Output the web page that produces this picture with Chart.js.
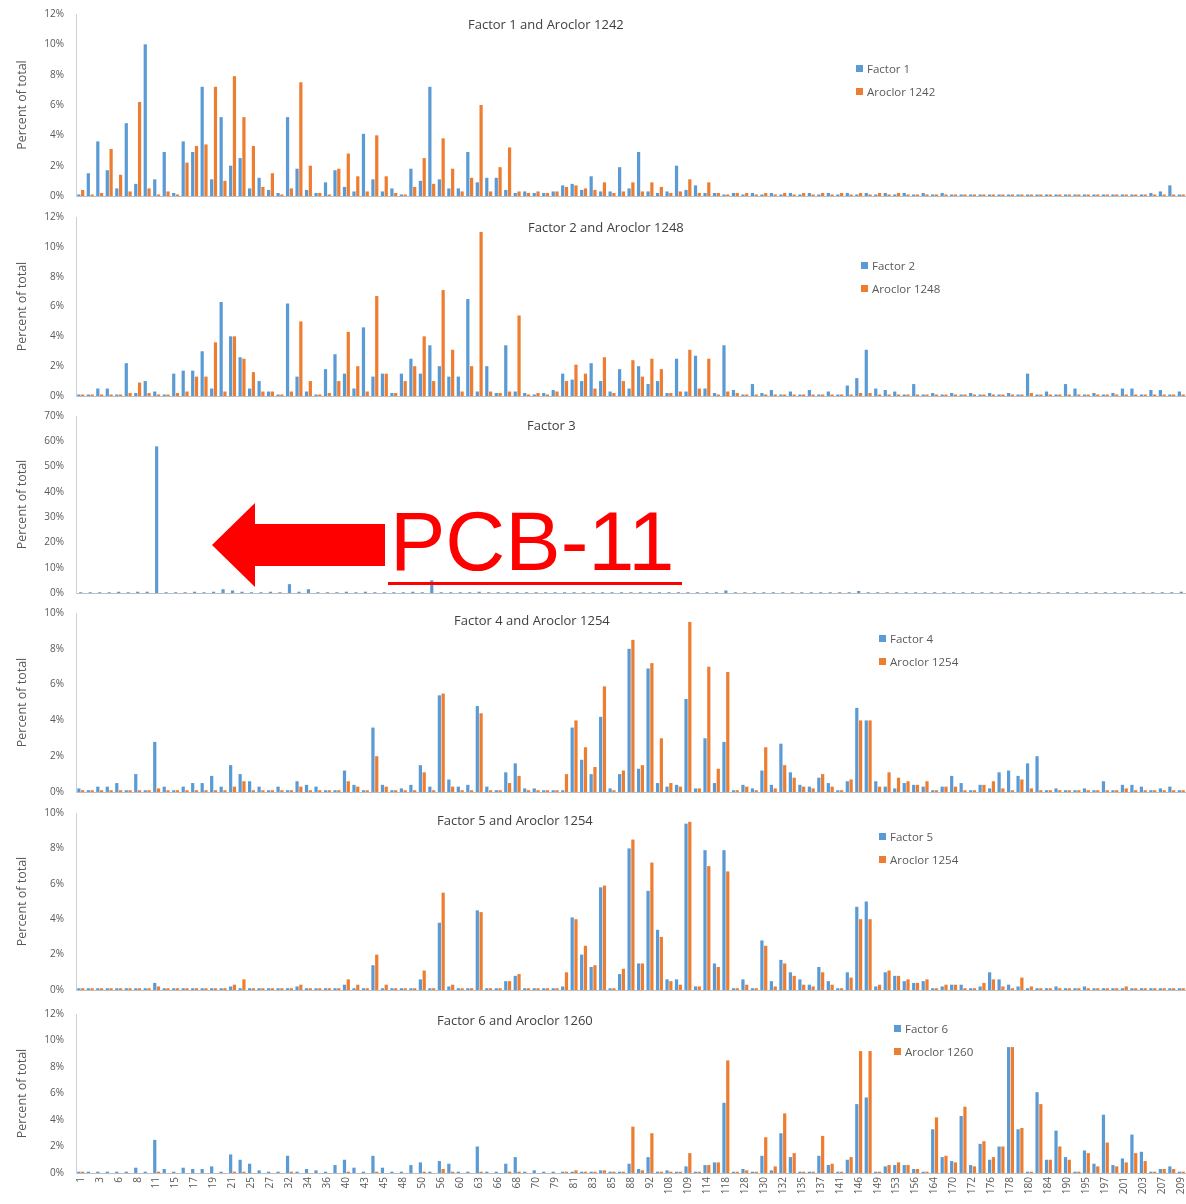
<!DOCTYPE html>
<html>
<head>
<meta charset="utf-8">
<script src="https://cdn.jsdelivr.net/npm/chart.js@4.4.1/dist/chart.umd.min.js"></script>
<style>
  body { margin: 0; background: #fff; }
  #page { position: relative; width: 1186px; height: 1204px; overflow: hidden; font-family: "Open Sans", "Liberation Sans", sans-serif; }
  #page canvas { position: absolute; left: 0; }
  .title { position: absolute; font-size: 13px; line-height: 18px; color: #404040; white-space: nowrap; z-index: 2; }
  .leg { position: absolute; font-size: 11.5px; color: #595959; z-index: 2; }
  .leg div { height: 23px; line-height: 23px; white-space: nowrap; }
  .leg i { display: inline-block; width: 7px; height: 7px; margin-right: 4px; vertical-align: middle; position: relative; top: -1px; }
  #pcb { position: absolute; left: 390px; top: 500px; font-family: "Liberation Sans", Arial, sans-serif; font-size: 83px; line-height: 83px; color: #ff0000; z-index: 3; white-space: nowrap; }
  #arrow { position: absolute; left: 0; top: 0; z-index: 3; }
</style>
</head>
<body>
<div id="page">
  <canvas id="c1" width="1186" height="198" style="top:4px"></canvas>
  <canvas id="c2" width="1186" height="195" style="top:207px"></canvas>
  <canvas id="c3" width="1186" height="193" style="top:406px"></canvas>
  <canvas id="c4" width="1186" height="195" style="top:603px"></canvas>
  <canvas id="c5" width="1186" height="193" style="top:803px"></canvas>
  <canvas id="c6" width="1186" height="200" style="top:1004px"></canvas>

  <div class="title" style="left:468px;top:15px">Factor 1 and Aroclor 1242</div>
  <div class="title" style="left:528px;top:218px">Factor 2 and Aroclor 1248</div>
  <div class="title" style="left:527px;top:416px">Factor 3</div>
  <div class="title" style="left:454px;top:611px">Factor 4 and Aroclor 1254</div>
  <div class="title" style="left:437px;top:811px">Factor 5 and Aroclor 1254</div>
  <div class="title" style="left:437px;top:1011px">Factor 6 and Aroclor 1260</div>

  <div class="leg" style="left:856px;top:57px"><div><i style="background:#5b9bd5"></i>Factor 1</div><div><i style="background:#ed7d31"></i>Aroclor 1242</div></div>
  <div class="leg" style="left:861px;top:254px"><div><i style="background:#5b9bd5"></i>Factor 2</div><div><i style="background:#ed7d31"></i>Aroclor 1248</div></div>
  <div class="leg" style="left:879px;top:627px"><div><i style="background:#5b9bd5"></i>Factor 4</div><div><i style="background:#ed7d31"></i>Aroclor 1254</div></div>
  <div class="leg" style="left:879px;top:825px"><div><i style="background:#5b9bd5"></i>Factor 5</div><div><i style="background:#ed7d31"></i>Aroclor 1254</div></div>
  <div class="leg" style="left:894px;top:1017px"><div><i style="background:#5b9bd5"></i>Factor 6</div><div><i style="background:#ed7d31"></i>Aroclor 1260</div></div>

  <!-- PCB-11 callout -->
  <svg id="arrow" width="1186" height="1204">
    <polygon points="212,545 255,503 255,524 385,524 385,566 255,566 255,587" fill="#ff0000"/>
    <line x1="388" y1="583.5" x2="682" y2="583.5" stroke="#ff0000" stroke-width="3"/>
  </svg>
  <div id="pcb">PCB-11</div>
</div>

<script>
// congeners (only every other one is printed on the axis)
const congeners = [
  '1','2','3','4','6','7','8','9','11','12',
  '15','16','17','18','19','20','21','22','25','26',
  '27','31','32','33','34','35','36','37','40','42',
  '43','44','45','46','48','49','50','52','56','59',
  '60','61','63','64','66','67','68','69','70','77',
  '79','80','81','82','83','84','85','87','88','91',
  '92','95','108','107','109','110','114','115','118','123',
  '128','129','130','131','132','134','135','136','137','138',
  '141','144','146','147','149','151','153','154','156','158',
  '164','167','170','171','172','174','176','177','178','179',
  '180','183','184','187','190','194','195','196','197','199',
  '201','202','203','206','207','208','209'
];

// percent of total
const factor1 = [
  0.1, 1.5, 3.6, 1.7, 0.5, 4.8, 0.8, 10.0, 1.1, 2.9,
  0.2, 3.6, 2.9, 7.2, 1.1, 5.2, 2.0, 2.5, 0.5, 1.2,
  0.4, 0.2, 5.2, 1.8, 0.4, 0.2, 0.9, 1.7, 0.6, 0.3,
  4.1, 1.1, 0.3, 0.5, 0.1, 1.8, 1.0, 7.2, 1.1, 0.5,
  0.5, 2.9, 0.9, 1.2, 1.2, 0.4, 0.2, 0.3, 0.2, 0.2,
  0.3, 0.7, 0.8, 0.4, 1.3, 0.3, 0.3, 1.9, 0.5, 2.9,
  0.3, 0.2, 0.3, 2.0, 0.4, 0.7, 0.2, 0.2, 0.1, 0.2,
  0.1, 0.2, 0.1, 0.2, 0.1, 0.2, 0.1, 0.2, 0.1, 0.2,
  0.1, 0.2, 0.1, 0.2, 0.1, 0.2, 0.1, 0.2, 0.1, 0.2,
  0.1, 0.2, 0.1, 0.1, 0.1, 0.1, 0.1, 0.1, 0.1, 0.1,
  0.1, 0.1, 0.1, 0.1, 0.1, 0.1, 0.1, 0.1, 0.1, 0.1,
  0.1, 0.1, 0.1, 0.2, 0.3, 0.7, 0.1
];
const aroclor1242 = [
  0.4, 0.1, 0.2, 3.1, 1.4, 0.3, 6.2, 0.5, 0.1, 0.3,
  0.1, 2.2, 3.3, 3.4, 7.2, 1.0, 7.9, 5.2, 3.3, 0.6,
  1.5, 0.1, 0.5, 7.5, 2.0, 0.2, 0.1, 1.8, 2.8, 1.3,
  0.3, 4.0, 1.3, 0.2, 0.1, 0.6, 2.5, 0.8, 3.8, 1.8,
  0.3, 1.2, 6.0, 0.3, 1.9, 3.2, 0.3, 0.2, 0.3, 0.2,
  0.3, 0.6, 0.7, 0.5, 0.4, 0.9, 0.2, 0.3, 0.9, 0.3,
  0.9, 0.6, 0.2, 0.3, 1.1, 0.2, 0.9, 0.2, 0.1, 0.2,
  0.2, 0.1, 0.2, 0.1, 0.2, 0.1, 0.2, 0.1, 0.2, 0.1,
  0.2, 0.1, 0.2, 0.1, 0.2, 0.1, 0.2, 0.1, 0.1, 0.1,
  0.1, 0.1, 0.1, 0.1, 0.1, 0.1, 0.1, 0.1, 0.1, 0.1,
  0.1, 0.1, 0.1, 0.1, 0.1, 0.1, 0.1, 0.1, 0.1, 0.1,
  0.1, 0.1, 0.1, 0.1, 0.1, 0.1, 0.1
];
const factor2 = [
  0.1, 0.1, 0.5, 0.5, 0.1, 2.2, 0.2, 1.0, 0.3, 0.1,
  1.5, 1.7, 1.7, 3.0, 0.5, 6.3, 4.0, 2.6, 0.5, 1.0,
  0.3, 0.1, 6.2, 1.3, 0.3, 0.1, 1.8, 2.8, 1.5, 0.5,
  4.6, 1.3, 1.5, 0.2, 1.5, 2.5, 1.5, 3.4, 2.0, 1.3,
  1.3, 6.5, 0.3, 2.0, 0.2, 3.4, 0.3, 0.2, 0.1, 0.2,
  0.4, 1.5, 1.1, 1.0, 2.2, 1.0, 0.3, 1.8, 0.5, 2.0,
  0.8, 1.0, 0.2, 2.5, 0.3, 2.7, 0.5, 0.2, 3.4, 0.4,
  0.1, 0.8, 0.2, 0.4, 0.1, 0.3, 0.1, 0.4, 0.1, 0.3,
  0.1, 0.7, 1.2, 3.1, 0.5, 0.4, 0.3, 0.1, 0.8, 0.1,
  0.2, 0.1, 0.2, 0.1, 0.2, 0.1, 0.2, 0.1, 0.2, 0.1,
  1.5, 0.1, 0.3, 0.1, 0.8, 0.5, 0.1, 0.2, 0.1, 0.2,
  0.5, 0.5, 0.1, 0.4, 0.4, 0.1, 0.3
];
const aroclor1248 = [
  0.1, 0.1, 0.1, 0.1, 0.1, 0.2, 0.9, 0.2, 0.1, 0.1,
  0.2, 0.3, 1.3, 1.3, 3.6, 0.3, 4.0, 2.5, 1.6, 0.3,
  0.3, 0.1, 0.3, 5.0, 1.0, 0.1, 0.2, 1.0, 4.3, 2.0,
  0.3, 6.7, 1.5, 0.2, 1.0, 2.0, 4.0, 1.0, 7.1, 3.1,
  0.3, 2.0, 11.0, 0.3, 0.2, 0.3, 5.4, 0.1, 0.2, 0.1,
  0.3, 1.0, 2.1, 1.5, 0.5, 2.6, 0.2, 1.0, 2.4, 1.3,
  2.5, 1.8, 0.2, 0.3, 3.1, 0.5, 2.5, 0.1, 0.3, 0.2,
  0.1, 0.1, 0.1, 0.1, 0.1, 0.1, 0.1, 0.1, 0.1, 0.1,
  0.1, 0.1, 0.2, 0.2, 0.1, 0.1, 0.1, 0.1, 0.1, 0.1,
  0.1, 0.1, 0.1, 0.1, 0.1, 0.1, 0.1, 0.1, 0.1, 0.1,
  0.2, 0.1, 0.1, 0.1, 0.1, 0.1, 0.1, 0.1, 0.1, 0.1,
  0.1, 0.1, 0.1, 0.1, 0.1, 0.1, 0.1
];
const factor3 = [
  0.3, 0.3, 0.3, 0.3, 0.5, 0.3, 0.5, 0.5, 58.0, 0.3,
  0.3, 0.3, 0.5, 0.3, 0.5, 1.5, 1.0, 0.5, 0.3, 0.3,
  0.5, 0.3, 3.5, 0.5, 1.5, 0.3, 0.3, 0.3, 0.5, 0.3,
  0.5, 0.3, 0.3, 0.3, 0.3, 0.5, 0.3, 5.0, 0.3, 0.3,
  0.3, 0.3, 0.5, 0.3, 0.3, 0.3, 0.3, 0.3, 0.3, 0.3,
  0.3, 0.3, 0.3, 0.3, 0.3, 0.3, 0.3, 0.3, 0.3, 0.3,
  0.3, 0.3, 0.3, 0.3, 0.3, 0.3, 0.3, 0.3, 1.0, 0.3,
  0.3, 0.3, 0.3, 0.3, 0.3, 0.3, 0.3, 0.3, 0.3, 0.3,
  0.3, 0.3, 0.8, 0.3, 0.3, 0.3, 0.3, 0.3, 0.3, 0.3,
  0.3, 0.3, 0.3, 0.3, 0.3, 0.3, 0.3, 0.3, 0.3, 0.3,
  0.3, 0.3, 0.3, 0.3, 0.3, 0.3, 0.3, 0.3, 0.3, 0.3,
  0.3, 0.3, 0.3, 0.3, 0.3, 0.3, 0.5
];
const factor4 = [
  0.2, 0.1, 0.3, 0.3, 0.5, 0.1, 1.0, 0.1, 2.8, 0.3,
  0.1, 0.3, 0.5, 0.5, 0.9, 0.3, 1.5, 1.0, 0.6, 0.3,
  0.1, 0.3, 0.1, 0.6, 0.4, 0.3, 0.1, 0.1, 1.2, 0.4,
  0.1, 3.6, 0.4, 0.1, 0.2, 0.4, 1.5, 0.3, 5.4, 0.7,
  0.3, 0.4, 4.8, 0.3, 0.1, 1.1, 1.6, 0.2, 0.2, 0.1,
  0.1, 0.1, 3.6, 1.8, 1.0, 4.2, 0.2, 1.0, 8.0, 1.3,
  6.9, 0.5, 0.3, 0.4, 5.2, 0.2, 3.0, 0.5, 2.8, 0.1,
  0.4, 0.2, 1.2, 0.4, 2.7, 1.1, 0.4, 0.3, 0.8, 0.5,
  0.1, 0.6, 4.7, 4.0, 0.6, 0.3, 0.2, 0.5, 0.4, 0.3,
  0.1, 0.3, 0.9, 0.5, 0.1, 0.4, 0.2, 1.1, 1.2, 0.9,
  1.6, 2.0, 0.1, 0.2, 0.1, 0.1, 0.2, 0.1, 0.6, 0.1,
  0.4, 0.4, 0.3, 0.1, 0.2, 0.3, 0.1
];
const aroclor1254 = [
  0.1, 0.1, 0.1, 0.1, 0.1, 0.1, 0.1, 0.1, 0.2, 0.1,
  0.1, 0.1, 0.1, 0.1, 0.1, 0.1, 0.3, 0.6, 0.1, 0.1,
  0.1, 0.1, 0.1, 0.3, 0.1, 0.1, 0.1, 0.1, 0.6, 0.3,
  0.1, 2.0, 0.3, 0.1, 0.1, 0.1, 1.1, 0.1, 5.5, 0.3,
  0.1, 0.1, 4.4, 0.1, 0.1, 0.5, 0.9, 0.1, 0.1, 0.1,
  0.1, 1.0, 4.0, 2.5, 1.4, 5.9, 0.1, 1.2, 8.5, 1.5,
  7.2, 3.0, 0.5, 0.3, 9.5, 0.2, 7.0, 1.3, 6.7, 0.1,
  0.3, 0.1, 2.5, 0.2, 1.5, 0.8, 0.3, 0.2, 1.0, 0.3,
  0.1, 0.7, 4.0, 4.0, 0.3, 1.1, 0.8, 0.6, 0.4, 0.6,
  0.1, 0.3, 0.3, 0.1, 0.1, 0.4, 0.6, 0.2, 0.1, 0.7,
  0.2, 0.1, 0.1, 0.1, 0.1, 0.1, 0.1, 0.1, 0.1, 0.1,
  0.2, 0.1, 0.1, 0.1, 0.1, 0.1, 0.1
];
const factor5 = [
  0.1, 0.1, 0.1, 0.1, 0.1, 0.1, 0.1, 0.1, 0.4, 0.1,
  0.1, 0.1, 0.1, 0.1, 0.1, 0.1, 0.2, 0.1, 0.1, 0.1,
  0.1, 0.1, 0.1, 0.2, 0.1, 0.1, 0.1, 0.1, 0.3, 0.1,
  0.1, 1.4, 0.1, 0.1, 0.1, 0.1, 0.6, 0.1, 3.8, 0.2,
  0.1, 0.1, 4.5, 0.1, 0.1, 0.5, 0.8, 0.1, 0.1, 0.1,
  0.1, 0.2, 4.1, 2.0, 1.3, 5.8, 0.1, 0.9, 8.0, 1.5,
  5.6, 3.4, 0.6, 0.6, 9.4, 0.2, 7.9, 1.5, 7.9, 0.1,
  0.6, 0.1, 2.8, 0.5, 1.7, 1.0, 0.6, 0.3, 1.3, 0.5,
  0.1, 1.0, 4.7, 5.0, 0.2, 1.0, 0.8, 0.5, 0.4, 0.5,
  0.1, 0.2, 0.3, 0.3, 0.1, 0.2, 1.0, 0.6, 0.3, 0.2,
  0.1, 0.1, 0.1, 0.2, 0.1, 0.1, 0.2, 0.1, 0.1, 0.1,
  0.1, 0.1, 0.1, 0.1, 0.1, 0.1, 0.1
];
const factor6 = [
  0.1, 0.1, 0.1, 0.1, 0.1, 0.1, 0.4, 0.1, 2.5, 0.3,
  0.1, 0.4, 0.3, 0.3, 0.5, 0.1, 1.4, 1.0, 0.7, 0.2,
  0.1, 0.1, 1.3, 0.1, 0.3, 0.2, 0.1, 0.6, 1.0, 0.4,
  0.1, 1.3, 0.4, 0.1, 0.1, 0.6, 0.8, 0.1, 0.9, 0.7,
  0.1, 0.1, 2.0, 0.1, 0.1, 0.7, 1.2, 0.1, 0.2, 0.1,
  0.1, 0.1, 0.1, 0.1, 0.1, 0.2, 0.1, 0.1, 0.7, 0.3,
  1.2, 0.1, 0.2, 0.1, 0.5, 0.1, 0.6, 0.8, 5.3, 0.1,
  0.3, 0.1, 1.3, 0.2, 3.0, 1.2, 0.1, 0.1, 1.3, 0.6,
  0.1, 1.0, 5.2, 5.7, 0.1, 0.5, 0.6, 0.6, 0.3, 0.1,
  3.3, 1.2, 0.9, 4.3, 0.6, 2.2, 1.0, 2.0, 9.5, 3.3,
  0.1, 6.1, 1.0, 3.2, 1.2, 0.1, 1.7, 0.7, 4.4, 0.6,
  1.1, 2.9, 1.6, 0.1, 0.3, 0.5, 0.1
];
const aroclor1260 = [
  0.1, 0.0, 0.0, 0.0, 0.0, 0.0, 0.0, 0.0, 0.1, 0.0,
  0.0, 0.0, 0.0, 0.0, 0.0, 0.0, 0.1, 0.1, 0.0, 0.0,
  0.0, 0.0, 0.1, 0.0, 0.0, 0.0, 0.0, 0.0, 0.1, 0.0,
  0.0, 0.1, 0.0, 0.0, 0.0, 0.0, 0.1, 0.0, 0.3, 0.1,
  0.0, 0.0, 0.1, 0.0, 0.0, 0.1, 0.1, 0.0, 0.0, 0.0,
  0.0, 0.1, 0.2, 0.1, 0.1, 0.2, 0.1, 0.1, 3.5, 0.2,
  3.0, 0.1, 0.1, 0.1, 1.5, 0.1, 0.6, 0.8, 8.5, 0.1,
  0.2, 0.1, 2.7, 0.5, 4.5, 1.5, 0.1, 0.1, 2.8, 0.7,
  0.1, 1.2, 9.2, 9.2, 0.1, 0.6, 0.8, 0.6, 0.3, 0.1,
  4.2, 1.3, 0.8, 5.0, 0.5, 2.4, 1.2, 2.0, 9.5, 3.4,
  0.1, 5.2, 1.0, 2.0, 1.0, 0.1, 1.5, 0.5, 2.3, 0.5,
  0.8, 1.5, 0.9, 0.1, 0.3, 0.3, 0.1
];

const BLUE = '#5b9bd5';
const ORANGE = '#ed7d31';
const tickFont = { family: 'Open Sans', size: 10 };

function bars(label, data, color, single) {
  return {
    label: label,
    data: data,
    backgroundColor: color,
    borderWidth: 0,
    categoryPercentage: 0.8,
    barPercentage: single ? 0.42 : 0.85
  };
}

function panel(id, yMax, step, datasets, showLabels) {
  return new Chart(document.getElementById(id), {
    type: 'bar',
    data: { labels: congeners, datasets: datasets },
    options: {
      responsive: false,
      animation: false,
      layout: { padding: { top: 10, right: 0, left: 0, bottom: 0 } },
      plugins: { legend: { display: false } },
      scales: {
        x: {
          // grid hidden, tickLength only spaces the labels off the axis
          grid: { display: false, drawTicks: true, tickLength: 4 },
          border: { display: true, color: '#bfbfbf' },
          ticks: {
            display: showLabels,
            autoSkip: false,
            minRotation: 90,
            maxRotation: 90,
            padding: 0,
            color: '#595959',
            font: tickFont,
            callback: function (value, index) {
              return index % 2 === 0 ? this.getLabelForValue(value) : '';
            }
          },
          afterFit: function (scale) {
            scale.height = showLabels ? 31 : 6;
            // same plot width in every panel
            scale.paddingLeft = 0;
            scale.paddingRight = 0;
          }
        },
        y: {
          min: 0,
          max: yMax,
          grid: { display: false, drawTicks: true, tickLength: 12 },
          border: { display: true, color: '#d0d0d0' },
          ticks: {
            stepSize: step,
            padding: 0,
            color: '#595959',
            font: tickFont,
            callback: v => v + '%'
          },
          title: {
            display: true,
            text: 'Percent of total',
            color: '#595959',
            font: { family: 'Open Sans', size: 12.5 },
            padding: { top: 15, bottom: 0 }
          },
          afterFit: function (scale) { scale.width = 76; }
        }
      }
    }
  });
}

panel('c1', 12, 2, [bars('Factor 1', factor1, BLUE), bars('Aroclor 1242', aroclor1242, ORANGE)], false);
panel('c2', 12, 2, [bars('Factor 2', factor2, BLUE), bars('Aroclor 1248', aroclor1248, ORANGE)], false);
panel('c3', 70, 10, [bars('Factor 3', factor3, BLUE, true)], false);
panel('c4', 10, 2, [bars('Factor 4', factor4, BLUE), bars('Aroclor 1254', aroclor1254, ORANGE)], false);
panel('c5', 10, 2, [bars('Factor 5', factor5, BLUE), bars('Aroclor 1254', aroclor1254, ORANGE)], false);
panel('c6', 12, 2, [bars('Factor 6', factor6, BLUE), bars('Aroclor 1260', aroclor1260, ORANGE)], true);
</script>
</body>
</html>
